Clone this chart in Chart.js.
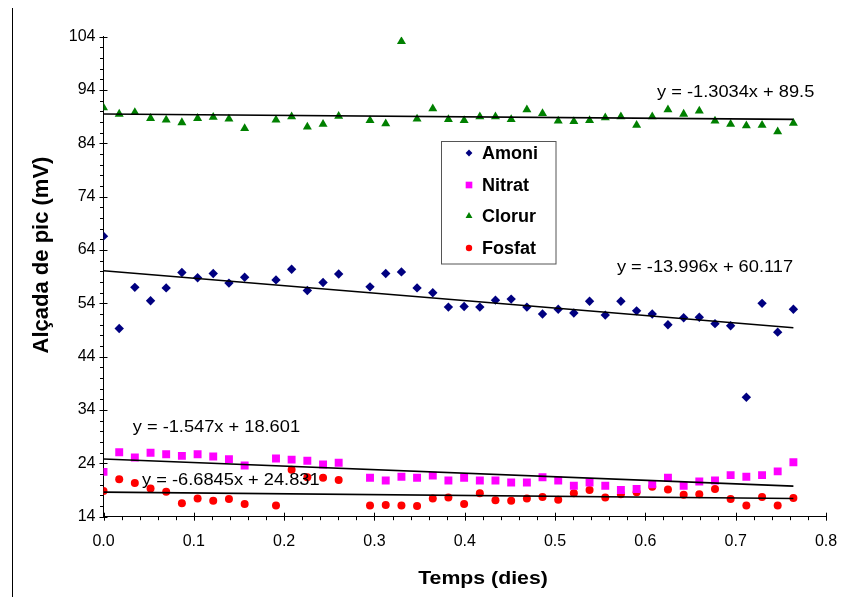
<!DOCTYPE html>
<html>
<head>
<meta charset="utf-8">
<script src="https://cdn.jsdelivr.net/npm/chart.js@4.4.1/dist/chart.umd.min.js"></script>
<style>
  body { margin: 0; background: #fff; }
  #wrap { position: relative; width: 848px; height: 597px; }
  #vora { position: absolute; left: 12px; top: 8px; width: 0; height: 589px; border-left: 1px solid #000; }
</style>
</head>
<body>
<div id="wrap">
  <canvas id="graph" width="848" height="597"></canvas>
  <div id="vora"></div>
</div>
<script>
// Temps de mostreig (dies), cada 25 minuts
const temps = [0, 0.0174, 0.0347, 0.0521, 0.0694, 0.0868, 0.1042, 0.1215, 0.1389, 0.1563,
  0.1736, 0.1910, 0.2083, 0.2257, 0.2431, 0.2604, 0.2778, 0.2951, 0.3125, 0.3299,
  0.3472, 0.3646, 0.3819, 0.3993, 0.4167, 0.4340, 0.4514, 0.4688, 0.4861, 0.5035,
  0.5208, 0.5382, 0.5556, 0.5729, 0.5903, 0.6076, 0.6250, 0.6424, 0.6597, 0.6771,
  0.6944, 0.7118, 0.7292, 0.7465, 0.7639];

// Alçada de pic (mV) de cada ió
const amoni = [66.6, 49.3, 57.0, 54.5, 56.9, 59.8, 58.8, 59.6, 57.8, 58.9,
  null, 58.4, 60.4, 56.4, 57.9, 59.5, null, 57.1, 59.6, 59.9,
  56.9, 56.0, 53.3, 53.4, 53.3, 54.6, 54.8, 53.3, 52.0, 52.9,
  52.2, 54.4, 51.8, 54.4, 52.6, 52.0, 50.0, 51.3, 51.4, 50.2,
  49.8, 36.4, 54.0, 48.6, 52.9];
const nitrat = [22.4, 26.1, 25.1, 26.0, 25.7, 25.4, 25.7, 25.3, 24.8, 23.6,
  null, 24.9, 24.7, 24.5, 23.8, 24.1, null, 21.3, 20.8, 21.5,
  21.3, 21.7, 20.8, 21.3, 20.8, 20.8, 20.4, 20.4, 21.4, 20.8,
  19.8, 20.4, 19.8, 19.0, 19.2, 20.1, 21.3, 19.8, 20.6, 20.8,
  21.8, 21.5, 21.8, 22.5, 24.2];
const clorur = [90.7, 89.5, 89.8, 88.7, 88.4, 87.9, 88.7, 88.9, 88.6, 86.8,
  null, 88.4, 89.0, 87.1, 87.6, 89.1, null, 88.3, 87.7, 103.1,
  88.6, 90.5, 88.5, 88.3, 89.0, 89.0, 88.5, 90.3, 89.6, 88.2,
  88.1, 88.3, 88.8, 89.0, 87.4, 89.0, 90.3, 89.5, 90.1, 88.2,
  87.6, 87.3, 87.4, 86.2, 87.8];
const fosfat = [18.8, 21.0, 20.3, 19.3, 18.7, 16.5, 17.4, 17.0, 17.3, 16.4,
  null, 16.1, 22.8, 21.4, 21.3, 20.9, null, 16.1, 16.2, 16.1,
  16.0, 17.4, 17.6, 16.4, 18.4, 17.1, 17.0, 17.4, 17.7, 17.2,
  18.4, 19.0, 17.6, 18.2, 18.6, 19.6, 19.1, 18.1, 18.2, 19.2,
  17.3, 16.1, 17.7, 16.1, 17.5];

// Rectes de regressió (pendent, ordenada) tal com surten a les etiquetes
const pendents = [-13.996, -6.6845, -1.3034, -1.547];
const ordenades = [60.117, 24.831, 89.5, 18.601];
const equacions = ['y = -13.996x + 60.117', 'y = -1.547x + 18.601', 'y = -1.3034x + 89.5', 'y = -6.6845x + 24.831'];
// posició de cada etiqueta (dies, mV)
const posEquacions = [[0.666, 60.8], [0.125, 30.8], [0.700, 93.45], [0.141, 20.7]];

const nomsSeries = ['Amoni', 'Nitrat', 'Clorur', 'Fosfat'];
const colors = ['#000080', '#FF00FF', '#008000', '#FF0000'];
const formes = ['rectRot', 'rect', 'triangle', 'circle'];
const mides = [4.7, 5.6, 5.2, 4.0];

const xTicks = [0, 0.1, 0.2, 0.3, 0.4, 0.5, 0.6, 0.7, 0.8];
const yTicks = [14, 24, 34, 44, 54, 64, 74, 84, 94, 104];

const font = 'Liberation Sans, Arial, sans-serif';

function punts(valors) {
    const res = [];
    valors.forEach((v, i) => { if (v !== null) res.push({ x: temps[i], y: v }); });
    return res;
}

const series = [amoni, nitrat, clorur, fosfat];
const datasets = series.map((s, k) => ({
    label: nomsSeries[k],
    data: punts(s),
    showLine: false,
    pointStyle: formes[k],
    pointRadius: mides[k],
    pointBackgroundColor: colors[k],
    pointBorderWidth: 0,
    borderColor: colors[k],
    order: 2
}));

// rectes de tendència
const tFinal = temps[temps.length - 1];
pendents.forEach((m, k) => {
    datasets.push({
        label: 'tend' + k,
        data: [{ x: 0, y: ordenades[k] }, { x: tFinal, y: ordenades[k] + m * tFinal }],
        showLine: true,
        borderColor: '#000',
        borderWidth: 1.6,
        pointRadius: 0,
        order: 1
    });
});

// text estirat en horitzontal, com a l'original
function textEstirat(c, txt, x, y, esc) {
    c.save();
    c.translate(x, y);
    c.scale(esc, 1);
    c.fillText(txt, 0, 0);
    c.restore();
}

const extres = {
    id: 'extres',
    afterDraw(chart) {
        const c = chart.ctx;
        const xs = chart.scales.x, ys = chart.scales.y;
        const area = chart.chartArea;
        c.save();
        c.strokeStyle = '#000';
        c.lineWidth = 1;
        // marques de l'eix X
        for (let i = 0; i <= 40; i++) {
            const px = Math.round(xs.getPixelForValue(i * 0.02)) + 0.5;
            c.beginPath();
            if (i % 5 === 0) { c.moveTo(px, area.bottom - 4); c.lineTo(px, area.bottom + 4); }
            else { c.moveTo(px, area.bottom); c.lineTo(px, area.bottom + 3.5); }
            c.stroke();
        }
        // marques de l'eix Y
        for (let i = 0; i <= 45; i++) {
            const py = Math.round(ys.getPixelForValue(14 + i * 2)) + 0.5;
            c.beginPath();
            if (i % 5 === 0) { c.moveTo(area.left - 4, py); c.lineTo(area.left + 4, py); }
            else { c.moveTo(area.left - 3.5, py); c.lineTo(area.left, py); }
            c.stroke();
        }

        // equacions
        c.fillStyle = '#000';
        c.font = '16px ' + font;
        c.textAlign = 'center';
        c.textBaseline = 'middle';
        equacions.forEach((txt, k) => {
            textEstirat(c, txt, xs.getPixelForValue(posEquacions[k][0]), ys.getPixelForValue(posEquacions[k][1]), 1.14);
        });

        // títols dels eixos
        c.font = 'bold 19px ' + font;
        textEstirat(c, 'Temps (dies)', 483, 579, 1.12);
        c.font = 'bold 22px ' + font;
        c.save();
        c.translate(42, 255);
        c.rotate(-Math.PI / 2);
        c.fillText('Alçada de pic (mV)', 0, 0);
        c.restore();

        // llegenda
        c.fillStyle = '#fff';
        c.fillRect(441.5, 141.5, 114.5, 122.5);
        c.strokeStyle = '#555';
        c.strokeRect(441.5, 141.5, 114.5, 122.5);
        const filesY = [153, 185, 216, 248];
        const midesLl = [3.4, 4.7, 4.0, 3.2];
        nomsSeries.forEach((nom, k) => {
            c.fillStyle = colors[k];
            Chart.helpers.drawPoint(c, {
                pointStyle: formes[k], radius: midesLl[k], rotation: 0, borderWidth: 0
            }, 469, filesY[k]);
            c.fillStyle = '#000';
            c.font = 'bold 18px ' + font;
            c.textAlign = 'left';
            c.textBaseline = 'middle';
            c.fillText(nom, 482, filesY[k] + 1);
        });
        c.restore();
    }
};

const ctx = document.getElementById('graph').getContext('2d');
const myChart = new Chart(ctx, {
    type: 'scatter',
    data: { datasets: datasets },
    options: {
        responsive: false,
        animation: false,
        layout: { padding: { top: 36.7, right: 22, left: 0, bottom: 0 } },
        plugins: { legend: { display: false }, tooltip: { enabled: false } },
        scales: {
            x: {
                type: 'linear',
                min: 0, max: 0.8,
                afterFit: s => { s.height = 80.3; },
                afterBuildTicks: s => { s.ticks = xTicks.map(v => ({ value: v })); },
                grid: { display: false },
                border: { display: true, color: '#000', width: 1 },
                ticks: {
                    autoSkip: false, maxRotation: 0, padding: 7,
                    color: '#000', font: { family: font, size: 16 },
                    callback: v => v.toFixed(1)
                }
            },
            y: {
                min: 14, max: 104,
                afterFit: s => { s.width = 103.5; },
                afterBuildTicks: s => { s.ticks = yTicks.map(v => ({ value: v })); },
                grid: { display: false },
                border: { display: true, color: '#000', width: 1 },
                ticks: {
                    padding: 0,
                    color: '#000', font: { family: font, size: 16 },
                    callback: v => String(v)
                }
            }
        }
    },
    plugins: [extres]
});
</script>
</body>
</html>
